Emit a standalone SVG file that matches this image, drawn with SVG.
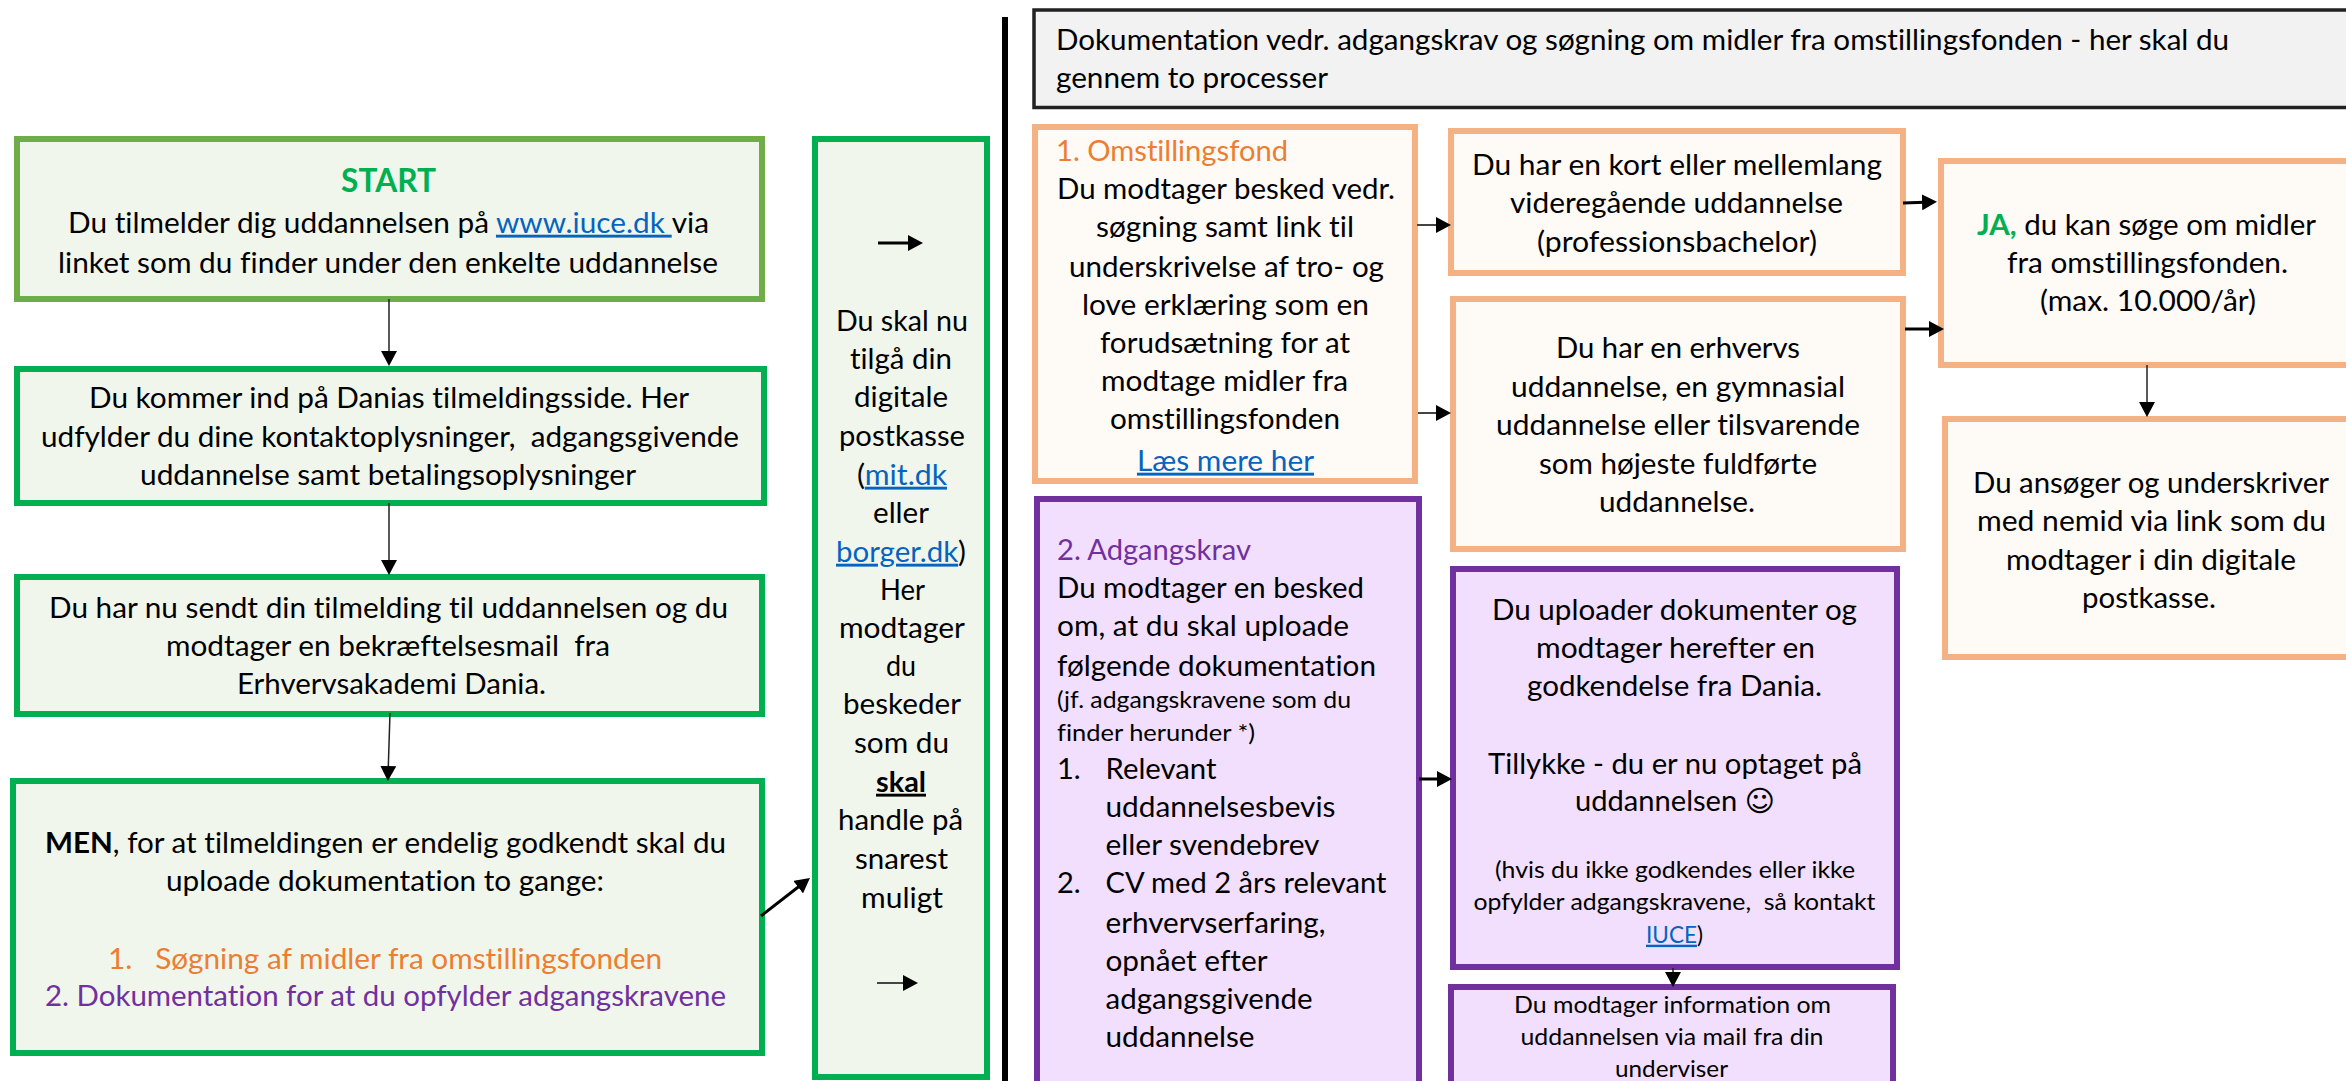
<svg xmlns="http://www.w3.org/2000/svg" width="2346" height="1081" viewBox="0 0 2346 1081">
<defs>
<style>
text{font-family:Lato,"Liberation Sans",sans-serif;font-size:29px;fill:#000;white-space:pre;font-variant-ligatures:none;transform:translateY(.7px)}
.s{font-size:24px}
.o{fill:#ed7d31}
.p{fill:#7030a0}
.g{fill:#00b050}
.l{fill:#0563c1;text-decoration:underline}
.gb{fill:#f1f6ec;stroke:#00b050;stroke-width:6}
.ob{fill:#fefaf6;stroke:#f4b183;stroke-width:6}
.pb{fill:#f2dffd;stroke:#7030a0;stroke-width:6}
.c{fill:none;stroke:#222;stroke-width:1.5}
.t{fill:none;stroke:#000;stroke-width:3}
.m{fill:none;stroke:#444;stroke-width:2}
</style>
<marker id="a" markerUnits="userSpaceOnUse" markerWidth="16" markerHeight="16" refX="10" refY="8" orient="auto"><path d="M0,0L15,8L0,16z" fill="#000"/></marker>
</defs>
<g id="divider"><rect x="1002" y="17" width="6" height="1064" fill="#000"/></g>
<g id="start">
<rect class="gb" x="17" y="139" width="745" height="160" style="stroke:#70ad47"/>
<text x="341" y="191" textLength="95" lengthAdjust="spacingAndGlyphs" style="font-size:33px;font-weight:700;fill:#00b050">START</text>
<text x="68" y="232" textLength="641" lengthAdjust="spacingAndGlyphs">Du tilmelder dig uddannelsen på <tspan class="l">www.iuce.dk </tspan>via</text>
<text x="58" y="272" textLength="660" lengthAdjust="spacingAndGlyphs">linket som du finder under den enkelte uddannelse</text>
</g>
<g id="tilmeldingsside">
<rect class="gb" x="17" y="369" width="747" height="134"/>
<text x="89" y="407" textLength="600" lengthAdjust="spacingAndGlyphs">Du kommer ind på Danias tilmeldingsside. Her</text>
<text x="41" y="446" textLength="698" lengthAdjust="spacingAndGlyphs">udfylder du dine kontaktoplysninger,  adgangsgivende</text>
<text x="140" y="484" textLength="496" lengthAdjust="spacingAndGlyphs">uddannelse samt betalingsoplysninger</text>
</g>
<g id="bekraeftelse">
<rect class="gb" x="17" y="577" width="745" height="137"/>
<text x="49" y="617" textLength="679" lengthAdjust="spacingAndGlyphs">Du har nu sendt din tilmelding til uddannelsen og du</text>
<text x="166" y="655" textLength="444" lengthAdjust="spacingAndGlyphs">modtager en bekræftelsesmail  fra</text>
<text x="237" y="693" textLength="309" lengthAdjust="spacingAndGlyphs">Erhvervsakademi Dania.</text>
</g>
<g id="men">
<rect class="gb" x="13" y="781" width="749" height="272"/>
<text x="45" y="852" textLength="681" lengthAdjust="spacingAndGlyphs"><tspan font-weight="700">MEN</tspan>, for at tilmeldingen er endelig godkendt skal du</text>
<text x="166" y="890" textLength="438" lengthAdjust="spacingAndGlyphs">uploade dokumentation to gange:</text>
<text class="o" x="108" y="968" textLength="554" lengthAdjust="spacingAndGlyphs">1.   Søgning af midler fra omstillingsfonden</text>
<text class="p" x="45" y="1005" textLength="681" lengthAdjust="spacingAndGlyphs">2. Dokumentation for at du opfylder adgangskravene</text>
</g>
<g id="postkasse">
<rect class="gb" x="815" y="139" width="172" height="938"/>
<text x="836" y="330" textLength="132" lengthAdjust="spacingAndGlyphs">Du skal nu</text>
<text x="850" y="368" textLength="102" lengthAdjust="spacingAndGlyphs">tilgå din</text>
<text x="854" y="406" textLength="94" lengthAdjust="spacingAndGlyphs">digitale</text>
<text x="839" y="445" textLength="126" lengthAdjust="spacingAndGlyphs">postkasse</text>
<text x="857" y="484" textLength="90" lengthAdjust="spacingAndGlyphs">(<tspan class="l">mit.dk</tspan></text>
<text x="873" y="522" textLength="56" lengthAdjust="spacingAndGlyphs">eller</text>
<text x="836" y="561" textLength="130" lengthAdjust="spacingAndGlyphs"><tspan class="l">borger.dk</tspan>)</text>
<text x="880" y="599" textLength="45" lengthAdjust="spacingAndGlyphs">Her</text>
<text x="839" y="637" textLength="126" lengthAdjust="spacingAndGlyphs">modtager</text>
<text x="886" y="675" textLength="30" lengthAdjust="spacingAndGlyphs">du</text>
<text x="843" y="713" textLength="118" lengthAdjust="spacingAndGlyphs">beskeder</text>
<text x="854" y="752" textLength="95" lengthAdjust="spacingAndGlyphs">som du</text>
<text x="876" y="791" textLength="50" lengthAdjust="spacingAndGlyphs" font-weight="700" text-decoration="underline">skal</text>
<text x="838" y="829" textLength="125" lengthAdjust="spacingAndGlyphs">handle på</text>
<text x="855" y="868" textLength="93" lengthAdjust="spacingAndGlyphs">snarest</text>
<text x="861" y="907" textLength="82" lengthAdjust="spacingAndGlyphs">muligt</text>
</g>
<g id="header">
<rect x="1034" y="10" width="1320" height="97.500" fill="#f2f2f2" stroke="#222" stroke-width="3.500"/>
<text x="1056" y="49" textLength="1173" lengthAdjust="spacingAndGlyphs">Dokumentation vedr. adgangskrav og søgning om midler fra omstillingsfonden - her skal du</text>
<text x="1056" y="87" textLength="272" lengthAdjust="spacingAndGlyphs">gennem to processer</text>
</g>
<g id="omstillingsfond">
<rect class="ob" x="1035" y="127" width="380" height="354"/>
<text class="o" x="1056" y="160" textLength="232" lengthAdjust="spacingAndGlyphs">1. Omstillingsfond</text>
<text x="1057" y="198" textLength="338" lengthAdjust="spacingAndGlyphs">Du modtager besked vedr.</text>
<text x="1096" y="236" textLength="258" lengthAdjust="spacingAndGlyphs">søgning samt link til</text>
<text x="1069" y="276" textLength="315" lengthAdjust="spacingAndGlyphs">underskrivelse af tro- og</text>
<text x="1082" y="314" textLength="287" lengthAdjust="spacingAndGlyphs">love erklæring som en</text>
<text x="1100" y="352" textLength="250" lengthAdjust="spacingAndGlyphs">forudsætning for at</text>
<text x="1101" y="390" textLength="247" lengthAdjust="spacingAndGlyphs">modtage midler fra</text>
<text x="1110" y="428" textLength="230" lengthAdjust="spacingAndGlyphs">omstillingsfonden</text>
<text class="l" x="1137" y="470" textLength="177" lengthAdjust="spacingAndGlyphs">Læs mere her</text>
</g>
<g id="kort">
<rect class="ob" x="1451" y="131" width="452" height="142"/>
<text x="1472" y="174" textLength="410" lengthAdjust="spacingAndGlyphs">Du har en kort eller mellemlang</text>
<text x="1510" y="212" textLength="333" lengthAdjust="spacingAndGlyphs">videregående uddannelse</text>
<text x="1537" y="251" textLength="280" lengthAdjust="spacingAndGlyphs">(professionsbachelor)</text>
</g>
<g id="erhverv">
<rect class="ob" x="1453" y="299" width="450" height="250"/>
<text x="1556" y="357" textLength="244" lengthAdjust="spacingAndGlyphs">Du har en erhvervs</text>
<text x="1511" y="396" textLength="334" lengthAdjust="spacingAndGlyphs">uddannelse, en gymnasial</text>
<text x="1496" y="434" textLength="364" lengthAdjust="spacingAndGlyphs">uddannelse eller tilsvarende</text>
<text x="1539" y="473" textLength="278" lengthAdjust="spacingAndGlyphs">som højeste fuldførte</text>
<text x="1599" y="511" textLength="156" lengthAdjust="spacingAndGlyphs">uddannelse.</text>
</g>
<g id="ja">
<rect class="ob" x="1941" y="161" width="420" height="204"/>
<text x="1977" y="234" textLength="339" lengthAdjust="spacingAndGlyphs"><tspan class="g" font-weight="700">JA,</tspan> du kan søge om midler</text>
<text x="2007" y="272" textLength="281" lengthAdjust="spacingAndGlyphs">fra omstillingsfonden.</text>
<text x="2040" y="310" textLength="216" lengthAdjust="spacingAndGlyphs">(max. 10.000/år)</text>
</g>
<g id="ansoeger">
<rect class="ob" x="1945" y="419" width="420" height="238"/>
<text x="1973" y="492" textLength="356" lengthAdjust="spacingAndGlyphs">Du ansøger og underskriver</text>
<text x="1977" y="530" textLength="349" lengthAdjust="spacingAndGlyphs">med nemid via link som du</text>
<text x="2006" y="569" textLength="290" lengthAdjust="spacingAndGlyphs">modtager i din digitale</text>
<text x="2082" y="607" textLength="134" lengthAdjust="spacingAndGlyphs">postkasse.</text>
</g>
<g id="adgangskrav">
<rect class="pb" x="1037" y="499" width="382" height="600"/>
<text class="p" x="1057" y="559" textLength="194" lengthAdjust="spacingAndGlyphs">2. Adgangskrav</text>
<text x="1057" y="597" textLength="307" lengthAdjust="spacingAndGlyphs">Du modtager en besked</text>
<text x="1057" y="635" textLength="292" lengthAdjust="spacingAndGlyphs">om, at du skal uploade</text>
<text x="1057" y="675" textLength="319" lengthAdjust="spacingAndGlyphs">følgende dokumentation</text>
<text class="s" x="1057" y="707" textLength="294" lengthAdjust="spacingAndGlyphs">(jf. adgangskravene som du</text>
<text class="s" x="1057" y="740" textLength="198" lengthAdjust="spacingAndGlyphs">finder herunder *)</text>
<text x="1057" y="778">1.</text>
<text x="1105.5" y="778" textLength="111" lengthAdjust="spacingAndGlyphs">Relevant</text>
<text x="1105.5" y="816" textLength="230" lengthAdjust="spacingAndGlyphs">uddannelsesbevis</text>
<text x="1105.5" y="854" textLength="214" lengthAdjust="spacingAndGlyphs">eller svendebrev</text>
<text x="1057" y="892">2.</text>
<text x="1105.5" y="892" textLength="281" lengthAdjust="spacingAndGlyphs">CV med 2 års relevant</text>
<text x="1105.5" y="932" textLength="220" lengthAdjust="spacingAndGlyphs">erhvervserfaring,</text>
<text x="1105.5" y="970" textLength="162" lengthAdjust="spacingAndGlyphs">opnået efter</text>
<text x="1105.5" y="1008" textLength="207" lengthAdjust="spacingAndGlyphs">adgangsgivende</text>
<text x="1105.5" y="1046" textLength="149" lengthAdjust="spacingAndGlyphs">uddannelse</text>
</g>
<g id="upload">
<rect class="pb" x="1453" y="569" width="444" height="398"/>
<text x="1492" y="619" textLength="365" lengthAdjust="spacingAndGlyphs">Du uploader dokumenter og</text>
<text x="1536" y="657" textLength="279" lengthAdjust="spacingAndGlyphs">modtager herefter en</text>
<text x="1527" y="695" textLength="295" lengthAdjust="spacingAndGlyphs">godkendelse fra Dania.</text>
<text x="1488" y="773" textLength="374" lengthAdjust="spacingAndGlyphs">Tillykke - du er nu optaget på</text>
<text x="1575" y="810" textLength="200" lengthAdjust="spacingAndGlyphs">uddannelsen <tspan style="font-family:'DejaVu Sans',sans-serif">☺</tspan></text>
<text class="s" x="1495" y="877" textLength="360" lengthAdjust="spacingAndGlyphs">(hvis du ikke godkendes eller ikke</text>
<text class="s" x="1473.5" y="909" textLength="402" lengthAdjust="spacingAndGlyphs">opfylder adgangskravene,  så kontakt</text>
<text class="s" x="1646" y="942" textLength="57" lengthAdjust="spacingAndGlyphs"><tspan class="l">IUCE</tspan>)</text>
</g>
<g id="information">
<rect class="pb" x="1451" y="987" width="442" height="110"/>
<text class="s" x="1514" y="1012" textLength="317" lengthAdjust="spacingAndGlyphs">Du modtager information om</text>
<text class="s" x="1520.5" y="1044" textLength="303" lengthAdjust="spacingAndGlyphs">uddannelsen via mail fra din</text>
<text class="s" x="1615" y="1076" textLength="113" lengthAdjust="spacingAndGlyphs">underviser</text>
</g>
<g id="connectors">
<line class="c" x1="389" y1="299" x2="389" y2="361" marker-end="url(#a)"/>
<line class="c" x1="389" y1="503" x2="389" y2="570" marker-end="url(#a)"/>
<line class="c" x1="390" y1="713" x2="388" y2="776" marker-end="url(#a)"/>
<line class="t" x1="761" y1="916" x2="806" y2="881" marker-end="url(#a)"/>
<line class="t" x1="878" y1="243" x2="918" y2="243" marker-end="url(#a)"/>
<line class="m" x1="877" y1="983" x2="913" y2="983" marker-end="url(#a)"/>
<line class="m" x1="1417" y1="225" x2="1446" y2="225" marker-end="url(#a)"/>
<line class="m" x1="1418" y1="413" x2="1446" y2="413" marker-end="url(#a)"/>
<line class="t" x1="1903" y1="203" x2="1932" y2="202" marker-end="url(#a)"/>
<line class="t" x1="1905" y1="329" x2="1939" y2="329" marker-end="url(#a)"/>
<line class="t" x1="1419" y1="779" x2="1447" y2="779" marker-end="url(#a)"/>
<line class="c" x1="2147" y1="365" x2="2147" y2="412" marker-end="url(#a)"/>
<line class="c" x1="1673" y1="968" x2="1673" y2="982" marker-end="url(#a)"/>
</g>
</svg>
